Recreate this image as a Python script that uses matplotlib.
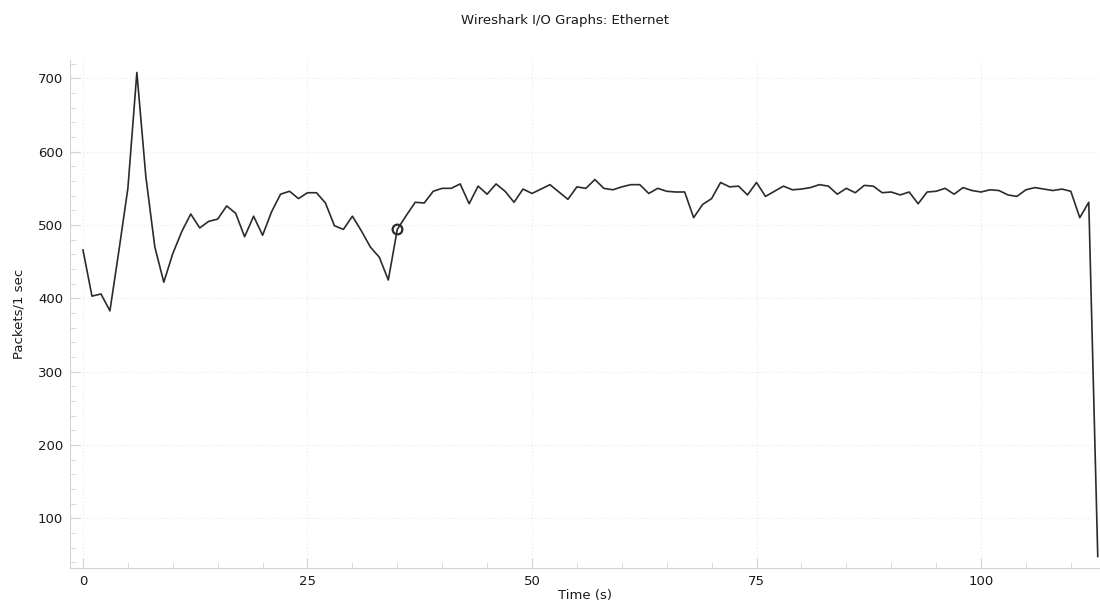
import matplotlib
matplotlib.use("Agg")
import matplotlib.pyplot as plt
import matplotlib.ticker as ticker

# packets per 1 sec interval
seconds = list(range(114))
packets = [
    466, 403, 406, 383, 465, 550, 708, 566, 470, 422,
    461, 491, 515, 496, 505, 508, 526, 516, 484, 512,
    486, 518, 542, 546, 536, 544, 544, 530, 499, 494,
    512, 492, 470, 456, 425, 494, 513, 531, 530, 546,
    550, 550, 556, 529, 553, 542, 556, 546, 531, 549,
    543, 549, 555, 545, 535, 552, 550, 562, 550, 548,
    552, 555, 555, 543, 550, 546, 545, 545, 510, 528,
    536, 558, 552, 553, 541, 558, 539, 546, 553, 548,
    549, 551, 555, 553, 542, 550, 544, 554, 553, 544,
    545, 541, 545, 529, 545, 546, 550, 542, 551, 547,
    545, 548, 547, 541, 539, 548, 551, 549, 547, 549,
    546, 510, 531, 48,
]
marked = 35  # the selected interval shown with a ring

title = 'Wireshark I/O Graphs: Ethernet'
x_label = 'Time (s)'
y_label = 'Packets/1 sec'


def main():
    fig = plt.figure(figsize=(11, 6.14), dpi=100)
    ax = fig.add_axes([0.0636, 0.0749, 0.9364, 0.8274])

    ax.plot(seconds, packets, color='#2b2b2b', linewidth=1.2)
    ax.plot(seconds[marked], packets[marked], 'o', markersize=7,
            markerfacecolor='none', markeredgecolor='#2b2b2b',
            markeredgewidth=1.6)

    ax.set_xlim(-1.45, 113.25)
    ax.set_ylim(32.3, 725)
    ax.xaxis.set_major_locator(ticker.MultipleLocator(25))
    ax.xaxis.set_minor_locator(ticker.MultipleLocator(5))
    ax.yaxis.set_major_locator(ticker.MultipleLocator(100))
    ax.yaxis.set_minor_locator(ticker.MultipleLocator(20))

    for s in ['top', 'right']:
        ax.spines[s].set_visible(False)
    for s in ['left', 'bottom']:
        ax.spines[s].set_color('#d4d4d4')
    ax.tick_params(which='major', direction='in', length=7, color='#d4d4d4',
                   labelsize=9.5, labelcolor='#1a1a1a', pad=5)
    ax.tick_params(which='minor', direction='in', length=4, color='#d4d4d4')
    ax.grid(True, which='major', color='#ececec', linestyle=':', linewidth=0.9)

    fig.text(0.514, 0.966, title, ha='center', va='center', fontsize=9.5,
             color='#1a1a1a')
    ax.set_xlabel(x_label, fontsize=9.5, color='#1a1a1a', labelpad=1)
    ax.set_ylabel(y_label, fontsize=9.5, color='#1a1a1a', labelpad=9)

    fig.savefig('out.png', dpi=100)


if __name__ == '__main__':
    main()
